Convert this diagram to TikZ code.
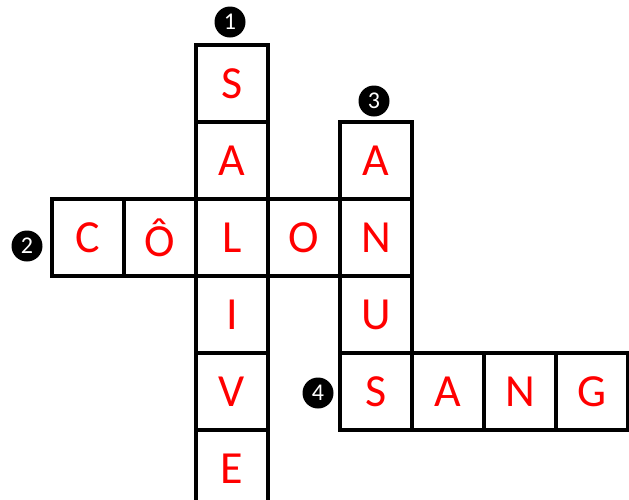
\documentclass[tikz,border=0pt]{standalone}
\usepackage{fontspec}
\setmainfont{Carlito}
\usetikzlibrary{positioning}
\definecolor{GridRed}{RGB}{255,0,0}
\tikzset{
  cell/.style={draw, line width=3.2pt, minimum width=72pt, minimum height=77pt,
    inner sep=0pt, text=GridRed, font=\fontsize{46}{50}\selectfont},
  cluenum/.style={circle, fill=black, text=white, minimum size=31pt,
    inner sep=0pt, font=\fontsize{24}{26}\selectfont}
}
\begin{document}
\begin{tikzpicture}[x=1pt,y=-1pt]
  \path[use as bounding box] (0,0) rectangle (629,499);

  % 1 down: SALIVE
  \foreach \r/\ch in {1/S,2/A,3/L,4/I,5/V,6/E}{
    \node[cell] (d1-\r) at (232,{6.5+77*\r}) {\ch};
  }

  % 2 across: CÔLON (L from 1 down, N from 3 down)
  \foreach \c/\x/\ch in {1/88/C,2/160/Ô,4/304/O}{
    \node[cell] (a2-\c) at (\x,237.5) {\ch};
  }

  % 3 down: ANUS
  \foreach \r/\ch in {1/A,2/N,3/U,4/S}{
    \node[cell] (d3-\r) at (376,{83.5+77*\r}) {\ch};
  }

  % 4 across: SANG (S from 3 down)
  \foreach \c/\x/\ch in {2/448/A,3/520/N,4/592/G}{
    \node[cell] (a4-\c) at (\x,391.5) {\ch};
  }

  % Clue numbers
  \node[cluenum] (n1) at (230,22) {1};
  \node[cluenum] (n2) at (27,246) {2};
  \node[cluenum] (n3) at (374,101) {3};
  \node[cluenum] (n4) at (318,393) {4};
\end{tikzpicture}
\end{document}
